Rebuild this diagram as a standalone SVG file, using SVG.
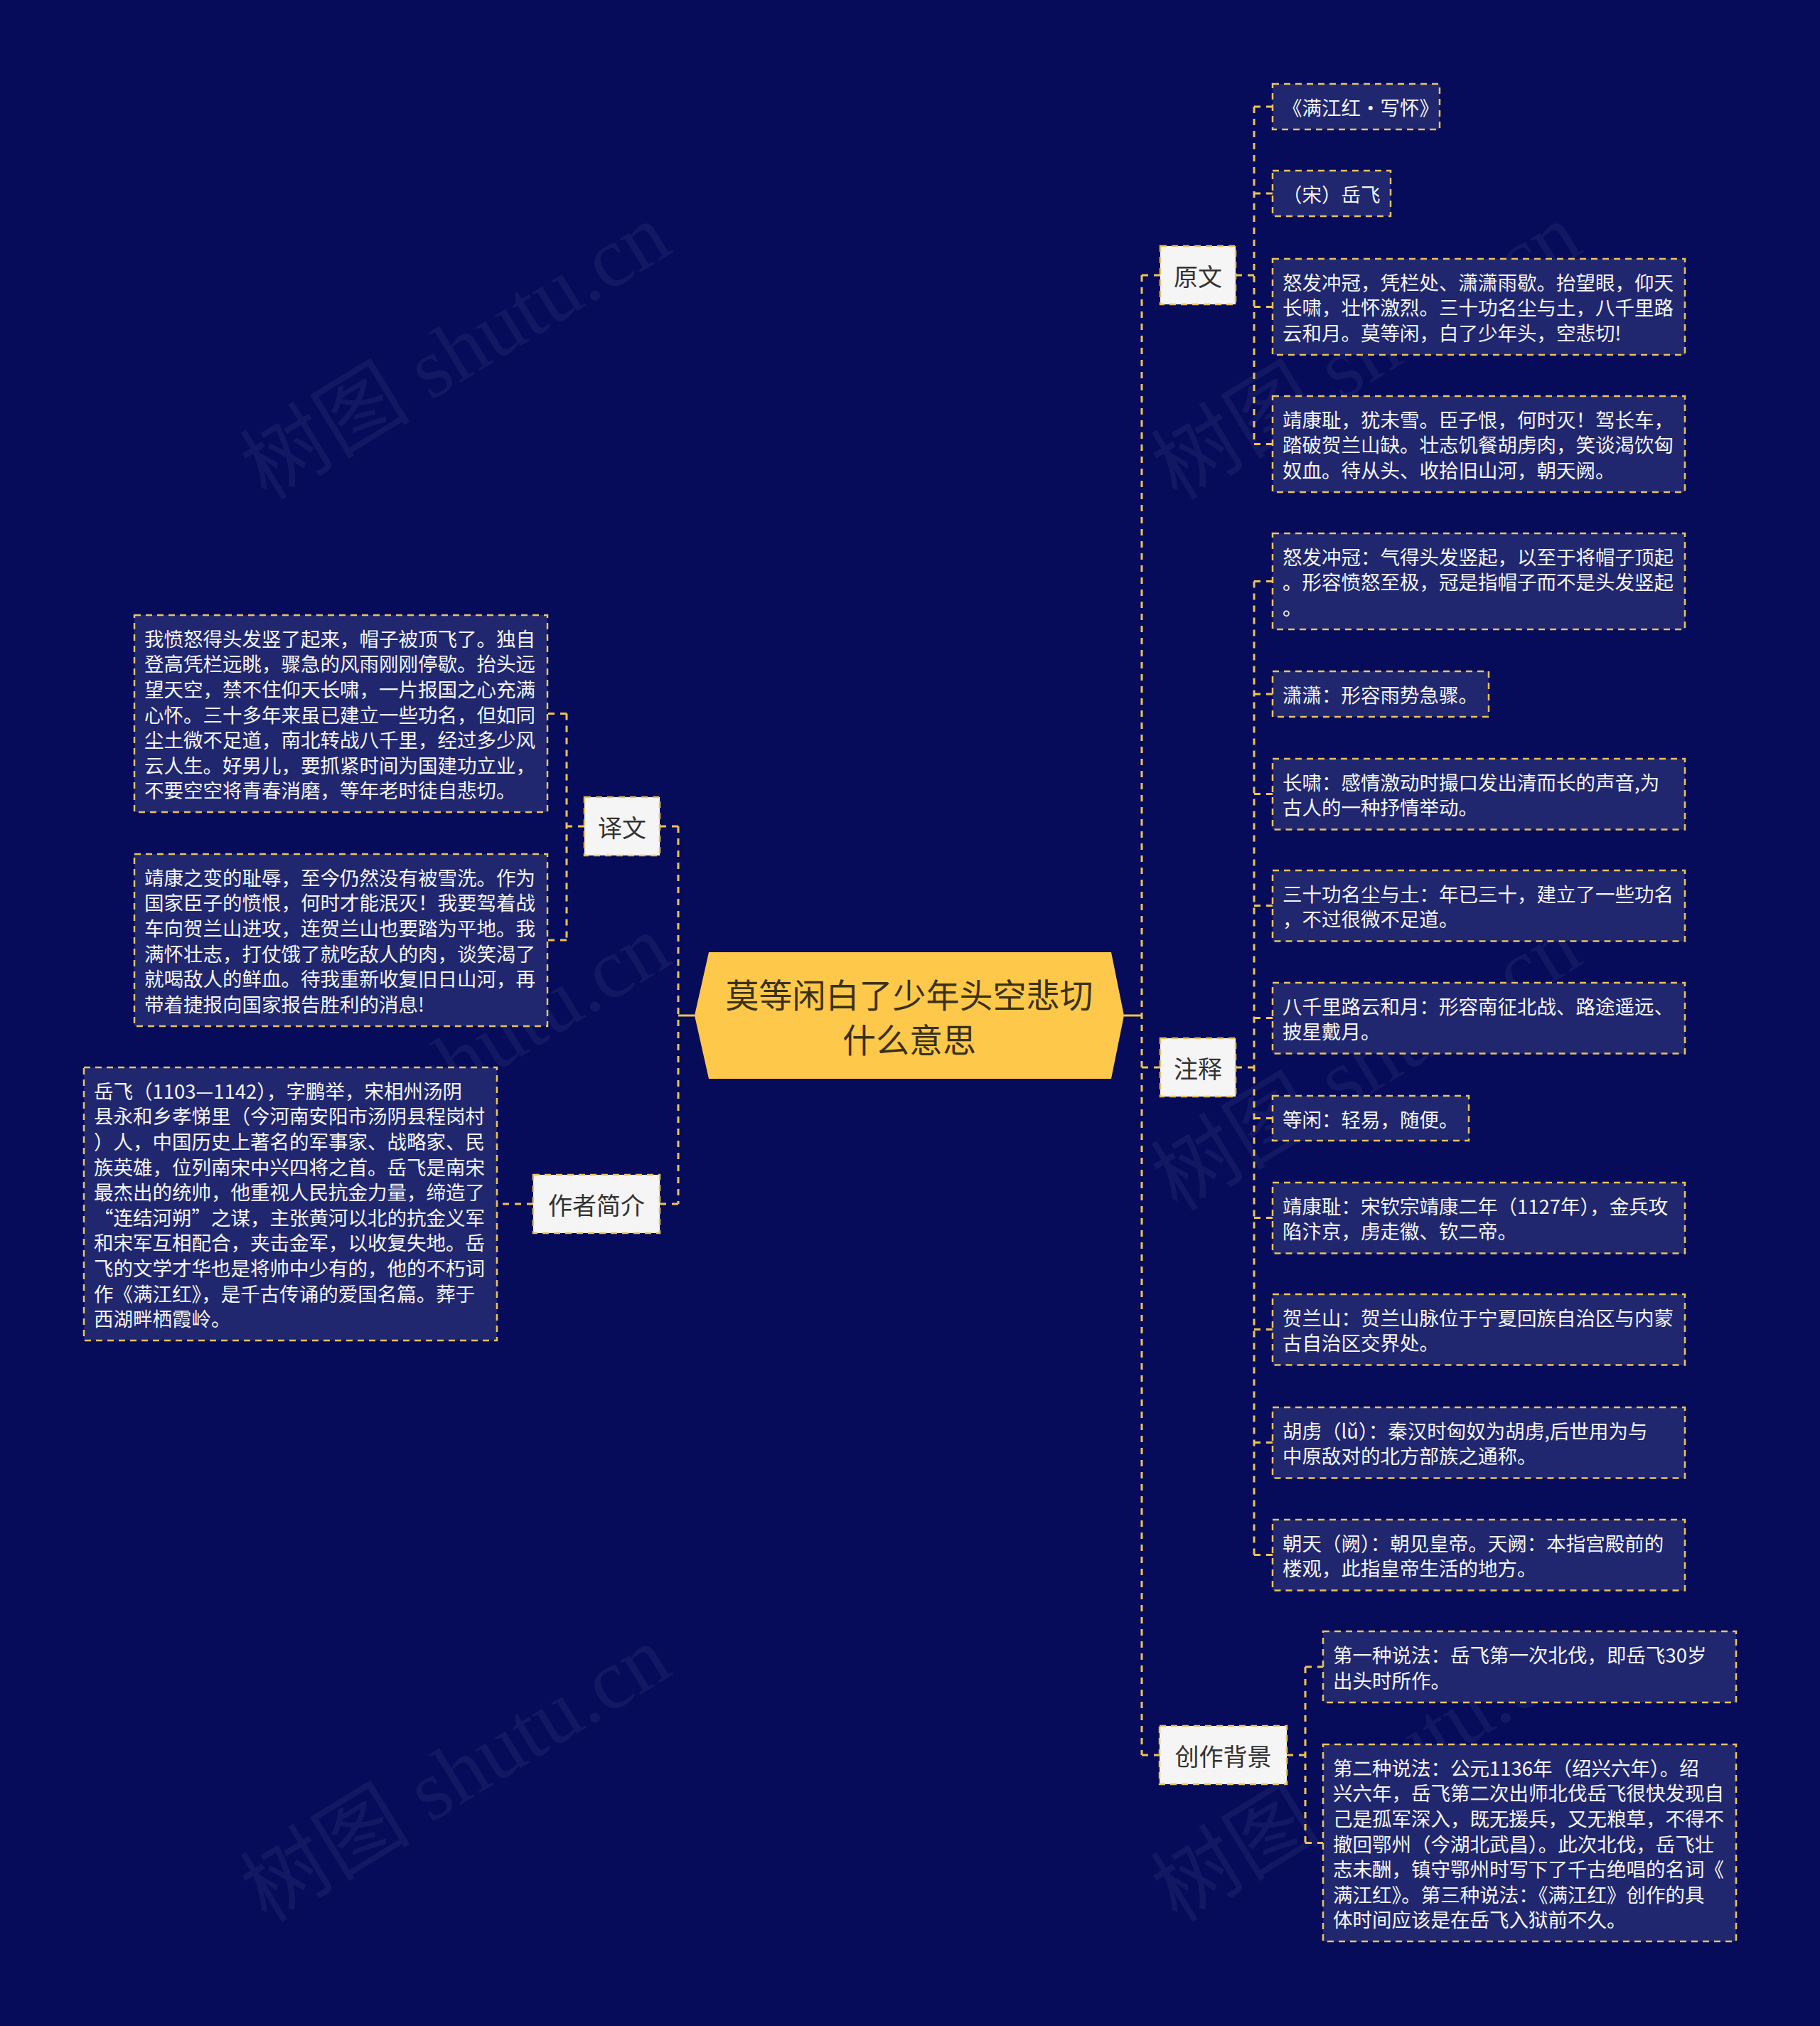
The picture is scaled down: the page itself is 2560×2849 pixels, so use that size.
<svg xmlns="http://www.w3.org/2000/svg" width="2560" height="2849" viewBox="0 0 2560 2849">
<style>
.wm{font-family:"Liberation Serif","Noto Sans CJK SC",serif;font-size:120px;fill:#ffffff;fill-opacity:0.05}
.l2{fill:#20276f;stroke:#e8c35c;stroke-width:2.5;stroke-dasharray:9 7}
.l1{fill:#f5f5f5;stroke:#e8c35c;stroke-width:2.5;stroke-dasharray:9 7}
.t2{font-family:"Noto Sans CJK SC","Noto Sans",sans-serif;font-size:27.5px;fill:#f4f4f4;dominant-baseline:central}
.t1{font-family:"Noto Sans CJK SC","Noto Sans",sans-serif;font-size:34px;fill:#333333;text-anchor:middle;dominant-baseline:central}
.t0{font-family:"Noto Sans CJK SC","Noto Sans",sans-serif;font-size:47px;fill:#3a3116;text-anchor:middle;dominant-baseline:central}
.c{fill:none;stroke:#f0c24e;stroke-width:3;stroke-dasharray:9 8}
.cs{fill:none;stroke:#f0c24e;stroke-width:3}
</style>
<rect x="0" y="0" width="2560" height="2849" fill="#060c5a"/>
<g id="watermarks">
<text class="wm" transform="translate(375,705) rotate(-31.5)">树图 shutu.cn</text>
<text class="wm" transform="translate(1656,705) rotate(-31.5)">树图 shutu.cn</text>
<text class="wm" transform="translate(375,1705) rotate(-31.5)">树图 shutu.cn</text>
<text class="wm" transform="translate(1656,1705) rotate(-31.5)">树图 shutu.cn</text>
<text class="wm" transform="translate(375,2705) rotate(-31.5)">树图 shutu.cn</text>
<text class="wm" transform="translate(1656,2705) rotate(-31.5)">树图 shutu.cn</text>
</g>
<g id="connectors">
<path class="cs" d="M1581,1428 H1606"/>
<path class="c" d="M1606,387 V2468"/>
<path class="c" d="M1606,387 H1632 M1606,1501 H1632 M1606,2468 H1631"/>
<path class="cs" d="M977,1428 H954"/>
<path class="c" d="M954,1162 V1693"/>
<path class="c" d="M954,1162 H928 M954,1693 H928"/>
<path class="c" d="M1738,387 H1764 M1764,150 V624.5"/>
<path class="c" d="M1764,150 H1790 M1764,272 H1790 M1764,431.5 H1790 M1764,624.5 H1790"/>
<path class="c" d="M1738,1501 H1764 M1764,817.5 V2186.5"/>
<path class="c" d="M1764,817.5 H1790 M1764,976 H1790 M1764,1116.5 H1790 M1764,1273.5 H1790 M1764,1431.5 H1790 M1764,1572.5 H1790 M1764,1712.5 H1790 M1764,1869.5 H1790 M1764,2028.5 H1790 M1764,2186.5 H1790"/>
<path class="c" d="M1810,2468 H1836 M1836,2344 V2591.5"/>
<path class="c" d="M1836,2344 H1861 M1836,2591.5 H1861"/>
<path class="c" d="M822,1162 H797 M797,1003.5 V1322"/>
<path class="c" d="M797,1003.5 H770 M797,1322 H770"/>
<path class="c" d="M750,1693 H699"/>
</g>
<g id="center">
<polygon points="997,1339 1563,1339 1581,1428 1563,1517 997,1517 977,1428" fill="#fec84b"/>
<text class="t0" x="1279" y="1396">莫等闲白了少年头空悲切</text>
<text class="t0" x="1279" y="1459">什么意思</text>
</g>
<g id="n-yuanwen">
<rect class="l1" x="1632" y="346" width="106" height="82"/>
<text class="t1" x="1685" y="387">原文</text>
</g>
<g id="n-zhushi">
<rect class="l1" x="1632" y="1460" width="106" height="82"/>
<text class="t1" x="1685" y="1501">注释</text>
</g>
<g id="n-beijing">
<rect class="l1" x="1631" y="2427" width="179" height="82"/>
<text class="t1" x="1720.5" y="2468">创作背景</text>
</g>
<g id="n-yiwen">
<rect class="l1" x="822" y="1121" width="106" height="82"/>
<text class="t1" x="875" y="1162">译文</text>
</g>
<g id="n-zuozhe">
<rect class="l1" x="750" y="1652" width="178" height="82"/>
<text class="t1" x="839" y="1693">作者简介</text>
</g>
<g id="yw1">
<rect class="l2" x="1790" y="118" width="235" height="64"/>
<text class="t2" x="1804" y="150">《满江红·写怀》</text>
</g>
<g id="yw2">
<rect class="l2" x="1790" y="240" width="166" height="64"/>
<text class="t2" x="1804" y="272">（宋）岳飞</text>
</g>
<g id="yw3">
<rect class="l2" x="1790" y="364" width="580" height="135"/>
<text class="t2" x="1804" y="395.8">怒发冲冠，凭栏处、潇潇雨歇。抬望眼，仰天</text>
<text class="t2" x="1804" y="431.4">长啸，壮怀激烈。三十功名尘与土，八千里路</text>
<text class="t2" x="1804" y="467">云和月。莫等闲，白了少年头，空悲切!</text>
</g>
<g id="yw4">
<rect class="l2" x="1790" y="557" width="580" height="135"/>
<text class="t2" x="1804" y="588.8">靖康耻，犹未雪。臣子恨，何时灭！驾长车，</text>
<text class="t2" x="1804" y="624.4">踏破贺兰山缺。壮志饥餐胡虏肉，笑谈渴饮匈</text>
<text class="t2" x="1804" y="660">奴血。待从头、收拾旧山河，朝天阙。</text>
</g>
<g id="zs1">
<rect class="l2" x="1790" y="750" width="580" height="135"/>
<text class="t2" x="1804" y="781.8">怒发冲冠：气得头发竖起，以至于将帽子顶起</text>
<text class="t2" x="1804" y="817.4">。形容愤怒至极，冠是指帽子而不是头发竖起</text>
<text class="t2" x="1804" y="853">。</text>
</g>
<g id="zs2">
<rect class="l2" x="1790" y="944" width="304" height="64"/>
<text class="t2" x="1804" y="976">潇潇：形容雨势急骤。</text>
</g>
<g id="zs3">
<rect class="l2" x="1790" y="1067" width="580" height="99.5"/>
<text class="t2" x="1804" y="1098.8">长啸：感情激动时撮口发出清而长的声音,为</text>
<text class="t2" x="1804" y="1134.4">古人的一种抒情举动。</text>
</g>
<g id="zs4">
<rect class="l2" x="1790" y="1224" width="580" height="99.5"/>
<text class="t2" x="1804" y="1255.8">三十功名尘与土：年已三十，建立了一些功名</text>
<text class="t2" x="1804" y="1291.4">，不过很微不足道。</text>
</g>
<g id="zs5">
<rect class="l2" x="1790" y="1382" width="580" height="99.5"/>
<text class="t2" x="1804" y="1413.8">八千里路云和月：形容南征北战、路途遥远、</text>
<text class="t2" x="1804" y="1449.4">披星戴月。</text>
</g>
<g id="zs6">
<rect class="l2" x="1790" y="1541" width="276" height="63"/>
<text class="t2" x="1804" y="1572.5">等闲：轻易，随便。</text>
</g>
<g id="zs7">
<rect class="l2" x="1790" y="1663" width="580" height="99.5"/>
<text class="t2" x="1804" y="1694.8">靖康耻：宋钦宗靖康二年（1127年），金兵攻</text>
<text class="t2" x="1804" y="1730.4">陷汴京，虏走徽、钦二帝。</text>
</g>
<g id="zs8">
<rect class="l2" x="1790" y="1820" width="580" height="99.5"/>
<text class="t2" x="1804" y="1851.8">贺兰山：贺兰山脉位于宁夏回族自治区与内蒙</text>
<text class="t2" x="1804" y="1887.4">古自治区交界处。</text>
</g>
<g id="zs9">
<rect class="l2" x="1790" y="1979" width="580" height="99.5"/>
<text class="t2" x="1804" y="2010.8">胡虏（lǔ）：秦汉时匈奴为胡虏,后世用为与</text>
<text class="t2" x="1804" y="2046.4">中原敌对的北方部族之通称。</text>
</g>
<g id="zs10">
<rect class="l2" x="1790" y="2137" width="580" height="99.5"/>
<text class="t2" x="1804" y="2168.8">朝天（阙）：朝见皇帝。天阙：本指宫殿前的</text>
<text class="t2" x="1804" y="2204.4">楼观，此指皇帝生活的地方。</text>
</g>
<g id="bj1">
<rect class="l2" x="1861" y="2294" width="581" height="100"/>
<text class="t2" x="1875" y="2326">第一种说法：岳飞第一次北伐，即岳飞30岁</text>
<text class="t2" x="1875" y="2361.6">出头时所作。</text>
</g>
<g id="bj2">
<rect class="l2" x="1861" y="2453" width="581" height="277"/>
<text class="t2" x="1875" y="2484.8">第二种说法：公元1136年（绍兴六年）。绍</text>
<text class="t2" x="1875" y="2520.4">兴六年，岳飞第二次出师北伐岳飞很快发现自</text>
<text class="t2" x="1875" y="2556">己是孤军深入，既无援兵，又无粮草，不得不</text>
<text class="t2" x="1875" y="2591.6">撤回鄂州（今湖北武昌）。此次北伐，岳飞壮</text>
<text class="t2" x="1875" y="2627.2">志未酬，镇守鄂州时写下了千古绝唱的名词《</text>
<text class="t2" x="1875" y="2662.8">满江红》。第三种说法：《满江红》创作的具</text>
<text class="t2" x="1875" y="2698.4">体时间应该是在岳飞入狱前不久。</text>
</g>
<g id="yi1">
<rect class="l2" x="189" y="865" width="581" height="277"/>
<text class="t2" x="203" y="896.8">我愤怒得头发竖了起来，帽子被顶飞了。独自</text>
<text class="t2" x="203" y="932.4">登高凭栏远眺，骤急的风雨刚刚停歇。抬头远</text>
<text class="t2" x="203" y="968">望天空，禁不住仰天长啸，一片报国之心充满</text>
<text class="t2" x="203" y="1003.6">心怀。三十多年来虽已建立一些功名，但如同</text>
<text class="t2" x="203" y="1039.2">尘土微不足道，南北转战八千里，经过多少风</text>
<text class="t2" x="203" y="1074.8">云人生。好男儿，要抓紧时间为国建功立业，</text>
<text class="t2" x="203" y="1110.4">不要空空将青春消磨，等年老时徒自悲切。</text>
</g>
<g id="yi2">
<rect class="l2" x="189" y="1201" width="581" height="242"/>
<text class="t2" x="203" y="1232.8">靖康之变的耻辱，至今仍然没有被雪洗。作为</text>
<text class="t2" x="203" y="1268.4">国家臣子的愤恨，何时才能泯灭！我要驾着战</text>
<text class="t2" x="203" y="1304">车向贺兰山进攻，连贺兰山也要踏为平地。我</text>
<text class="t2" x="203" y="1339.6">满怀壮志，打仗饿了就吃敌人的肉，谈笑渴了</text>
<text class="t2" x="203" y="1375.2">就喝敌人的鲜血。待我重新收复旧日山河，再</text>
<text class="t2" x="203" y="1410.8">带着捷报向国家报告胜利的消息!</text>
</g>
<g id="zz1">
<rect class="l2" x="118" y="1501" width="581" height="384"/>
<text class="t2" x="132" y="1532.8">岳飞（1103—1142），字鹏举，宋相州汤阴</text>
<text class="t2" x="132" y="1568.4">县永和乡孝悌里（今河南安阳市汤阴县程岗村</text>
<text class="t2" x="132" y="1604">）人，中国历史上著名的军事家、战略家、民</text>
<text class="t2" x="132" y="1639.6">族英雄，位列南宋中兴四将之首。岳飞是南宋</text>
<text class="t2" x="132" y="1675.2">最杰出的统帅，他重视人民抗金力量，缔造了</text>
<text class="t2" x="132" y="1710.8">“连结河朔”之谋，主张黄河以北的抗金义军</text>
<text class="t2" x="132" y="1746.4">和宋军互相配合，夹击金军，以收复失地。岳</text>
<text class="t2" x="132" y="1782">飞的文学才华也是将帅中少有的，他的不朽词</text>
<text class="t2" x="132" y="1817.6">作《满江红》，是千古传诵的爱国名篇。葬于</text>
<text class="t2" x="132" y="1853.2">西湖畔栖霞岭。</text>
</g>
</svg>
